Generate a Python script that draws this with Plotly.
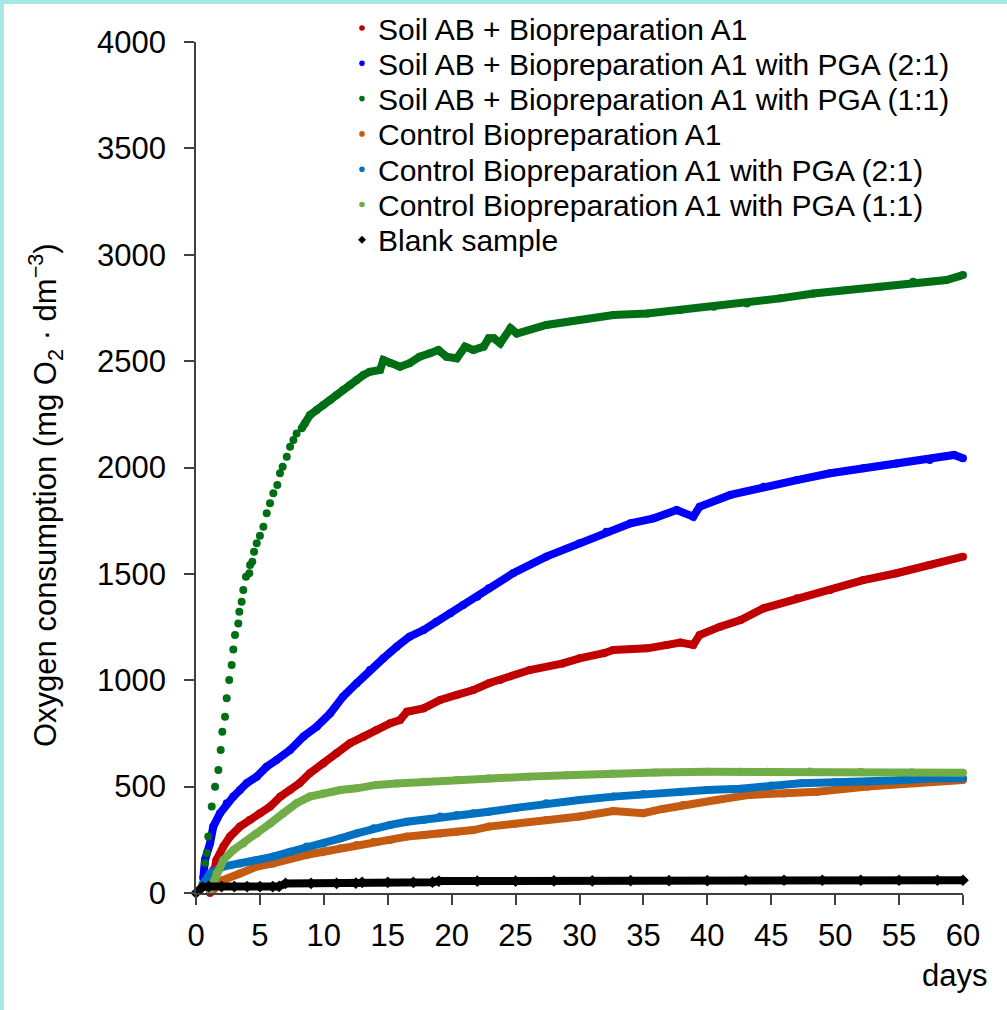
import plotly.graph_objects as go

# ---------------- data ----------------
series_names = [
    "Soil AB + Biopreparation A1",
    "Soil AB + Biopreparation A1 with PGA (2:1)",
    "Soil AB + Biopreparation A1 with PGA (1:1)",
    "Control Biopreparation A1",
    "Control Biopreparation A1 with PGA (2:1)",
    "Control Biopreparation A1 with PGA (1:1)",
    "Blank sample",
]
series_colors = ["#c00000", "#0000ff", "#006e14", "#c55a11", "#0070c0", "#70ad47", "#000000"]

red_x = [1.1, 1.35, 1.6, 2.14, 2.66, 3.44, 4.2, 5.0, 5.8, 6.6, 7.36, 8.1, 8.9, 9.96, 11.0, 12.05, 13.1, 14.1,
         15.2, 15.96, 16.5, 17.8, 19.1, 20.4, 21.7, 22.9, 23.8, 26.1, 28.7, 30.0, 31.9, 32.65, 35.3, 36.8,
         37.9, 38.9, 39.4, 41.0, 42.6, 44.4, 47.0, 49.6, 52.2, 54.8, 57.4, 60.0]
red_y = [0, 108, 155, 218, 265, 312, 343, 375, 406, 453, 484, 516, 563, 609, 657, 704, 735, 766,
         798, 813, 852, 868, 907, 931, 954, 986, 1001, 1048, 1079, 1103, 1127, 1142, 1150, 1166,
         1177, 1166, 1213, 1252, 1283, 1338, 1385, 1424, 1471, 1503, 1542, 1581]

blue_x = [0.57, 0.7, 1.1, 1.35, 1.88, 2.4, 2.92, 3.44, 3.97, 4.75, 5.53, 6.3, 7.36, 8.4, 9.44, 10.5, 11.5,
          12.57, 13.6, 14.66, 15.7, 16.7, 17.8, 18.8, 19.9, 20.9, 22.0, 22.9, 24.8, 27.4, 30.0, 32.1, 34.0,
          35.8, 37.6, 38.9, 39.4, 41.8, 44.4, 47.0, 49.6, 52.2, 54.8, 57.4, 59.3, 60.0]
blue_y = [69, 155, 234, 312, 375, 422, 453, 484, 516, 547, 594, 625, 672, 735, 782, 845, 923,
          986, 1048, 1103, 1158, 1205, 1236, 1275, 1315, 1354, 1393, 1432, 1503, 1581, 1644, 1698, 1738,
          1761, 1800, 1769, 1816, 1871, 1910, 1941, 1973, 1996, 2019, 2035, 2059, 2043]

green_x = [0.5, 0.7, 0.84, 0.96, 1.23, 1.49, 1.75, 1.93, 2.06, 2.27, 2.4, 2.6, 2.79, 2.92, 3.05, 3.31, 3.39,
           3.57, 3.7, 3.91, 4.17, 4.23, 4.41, 4.54, 4.75, 5.0, 5.27, 5.53, 5.79, 6.05, 6.36, 6.57, 6.78,
           7.1, 7.36, 7.62, 7.87, 8.27, 8.53, 8.92, 9.44, 9.96, 10.5, 11.0, 11.5, 12.05, 12.57, 13.1,
           13.6, 14.4, 14.66, 15.2, 15.96, 16.7, 17.5, 18.3, 18.96, 19.6, 20.4, 21.05, 21.7, 22.5, 22.9,
           23.3, 23.8, 24.6, 25.1, 27.4, 30.0, 32.65, 35.3, 37.9, 40.5, 43.1, 45.7, 48.3, 50.9, 53.5,
           56.1, 58.7, 60.0]
green_y = [40, 141, 188, 265, 406, 500, 578, 672, 758, 829, 915, 1001, 1072, 1145, 1213, 1267, 1322,
           1369, 1424, 1487, 1503, 1542, 1557, 1604, 1644, 1679, 1722, 1785, 1832, 1879, 1918, 1973, 2004,
           2051, 2098, 2129, 2160, 2184, 2208, 2247, 2270, 2294, 2317, 2341, 2364, 2388, 2411, 2435,
           2450, 2458, 2505, 2490, 2474, 2490, 2521, 2537, 2552, 2521, 2513, 2568, 2552, 2568, 2607,
           2607, 2584, 2654, 2630, 2670, 2693, 2717, 2724, 2740, 2756, 2771, 2795, 2818, 2834, 2850,
           2873, 2881, 2905]

orange_x = [1.35, 2.14, 3.44, 4.75, 6.05, 7.36, 8.66, 9.96, 11.3, 12.57, 13.9, 15.2, 16.5, 17.8, 19.1,
            20.4, 21.7, 22.9, 25.0, 27.4, 30.0, 32.65, 35.0, 36.5, 38.1, 40.7, 43.3, 46.0, 48.6, 52.5,
            56.4, 60.0]
orange_y = [14, 61, 92, 124, 139, 163, 179, 194, 210, 226, 241, 249, 265, 273, 280,
            288, 296, 312, 325, 343, 360, 385, 375, 395, 414, 437, 461, 468, 476, 500,
            516, 531]

cblue_x = [0.57, 1.1, 2.14, 3.44, 4.75, 6.05, 7.36, 8.66, 9.96, 11.3, 12.57, 13.9, 15.2, 16.5, 17.8, 19.1,
           20.4, 21.7, 22.9, 25.0, 27.4, 30.0, 32.65, 35.0, 37.9, 40.0, 42.6, 45.0, 47.3, 50.0, 52.5,
           55.0, 57.7, 60.0]
cblue_y = [45, 92, 124, 139, 155, 171, 194, 218, 233, 257, 280, 304, 320, 335, 343, 359,
           367, 375, 382, 400, 422, 437, 453, 465, 476, 484, 490, 505, 516, 520, 523,
           530, 539, 539]

lgreen_x = [1.1, 1.6, 2.14, 2.92, 3.7, 4.75, 5.8, 6.83, 7.87, 8.9, 9.96, 11.3, 12.57, 14.1, 15.7, 17.8,
            20.4, 22.9, 26.0, 29.0, 32.6, 36.0, 40.0, 42.6, 44.7, 48.0, 52.0, 56.0, 60.0]
lgreen_y = [14, 92, 155, 202, 233, 280, 327, 375, 422, 453, 468, 484, 492, 508, 515, 523,
            531, 539, 547, 553, 562, 566, 570, 570, 570, 571, 570, 568, 565]

blank_x = [0, 0.5, 1, 2, 3, 4, 5, 6, 6.5, 7, 9, 11, 12.5, 13, 15, 17, 18.5, 19, 22, 25, 28, 31, 34, 37,
           40, 43, 46, 49, 52, 55, 58, 60]
blank_y = [0, 28, 30, 30, 30, 30, 30, 30, 31, 45, 45, 45, 46, 50, 50, 50, 51, 56, 56, 56, 57, 57, 58, 58,
           58, 60, 60, 60, 60, 60, 60, 60]

x_ticks = list(range(0, 61, 5))
y_ticks = list(range(0, 4001, 500))

all_x = [red_x, blue_x, green_x, orange_x, cblue_x, lgreen_x, blank_x]
all_y = [red_y, blue_y, green_y, orange_y, cblue_y, lgreen_y, blank_y]
symbols = ["circle"] * 6 + ["diamond"]
# index from which a continuous band is drawn (early green dots stay separate)
band_start = [0, 0, 37, 0, 0, 0, 0]

# ---------------- figure ----------------
W, H = 1007, 1010
ML, MR, MT, MB = 196, 44, 42, 117
PW, PH = W - ML - MR, H - MT - MB


def px_x(p):
    return (p - ML) / PW


def px_y(p):
    return (MT + PH - p) / PH


fig = go.Figure()
for i in range(7):
    fig.add_trace(go.Scatter(
        x=all_x[i][band_start[i]:], y=all_y[i][band_start[i]:], mode="lines",
        line=dict(color=series_colors[i], width=8), showlegend=False,
        hoverinfo="skip", cliponaxis=False))
    fig.add_trace(go.Scatter(
        x=all_x[i], y=all_y[i], mode="markers", name=series_names[i], showlegend=False,
        marker=dict(color=series_colors[i], size=8 if i < 6 else 9, symbol=symbols[i]),
        cliponaxis=False))

axis_common = dict(showline=True, linecolor="#404040", linewidth=1.5, ticks="outside",
                   ticklen=10, tickwidth=1.5, tickcolor="#404040", showgrid=False,
                   zeroline=False, tickfont=dict(size=31, color="black"))
fig.update_xaxes(range=[0, 60], tickvals=x_ticks, ticklabelstandoff=4, **axis_common)
fig.update_yaxes(range=[0, 4000], tickvals=y_ticks, ticklabelstandoff=12, **axis_common)

fig.update_layout(
    width=W, height=H,
    margin=dict(l=ML, r=MR, t=MT, b=MB, autoexpand=False),
    plot_bgcolor="white", paper_bgcolor="white",
    font=dict(family="Liberation Sans, Arial, sans-serif", color="black", size=30),
    showlegend=False,
)

# legend (drawn as marker shapes + text so that row spacing matches)
row0, row_step = 28, 35.3
for i, name in enumerate(series_names):
    cy = row0 + row_step * i
    if symbols[i] == "circle":
        fig.add_shape(type="circle", xref="paper", yref="paper", xsizemode="pixel",
                      ysizemode="pixel", xanchor=px_x(362), yanchor=px_y(cy),
                      x0=-2.8, x1=2.8, y0=-2.8, y1=2.8,
                      fillcolor=series_colors[i], line=dict(width=0))
    else:
        fig.add_shape(type="path", xref="paper", yref="paper", xsizemode="pixel",
                      ysizemode="pixel", xanchor=px_x(362), yanchor=px_y(cy),
                      path="M -4 0 L 0 4 L 4 0 L 0 -4 Z",
                      fillcolor=series_colors[i], line=dict(width=0))
    fig.add_annotation(text=name, xref="paper", yref="paper", x=px_x(376), y=px_y(cy + 1),
                       showarrow=False, xanchor="left", yanchor="middle",
                       font=dict(size=30, color="black"))

fig.add_annotation(text="Oxygen consumption (mg O<sub>2</sub> · dm<sup>−3</sup>)",
                   xref="paper", yref="paper", x=px_x(45), y=px_y(495),
                   textangle=-90, showarrow=False, xanchor="center", yanchor="middle",
                   font=dict(size=31))
fig.add_annotation(text="days", xref="paper", yref="paper", x=px_x(989),
                   y=px_y(975), showarrow=False, xanchor="right", yanchor="middle",
                   font=dict(size=31))

# cyan frame strips at top and left edges of the picture
fx0, fx1 = px_x(0), px_x(W)
fy0, fy1 = px_y(H), px_y(0)
fig.add_shape(type="rect", xref="paper", yref="paper", x0=fx0, x1=px_x(4), y0=fy0, y1=fy1,
              fillcolor="#a6e8e4", line=dict(width=0), layer="above")
fig.add_shape(type="rect", xref="paper", yref="paper", x0=fx0, x1=fx1, y0=px_y(4), y1=fy1,
              fillcolor="#a6e8e4", line=dict(width=0), layer="above")

fig.write_html("out.html", config={"displayModeBar": False},
               post_script="document.body.style.margin='0';document.body.style.overflow='hidden';")
